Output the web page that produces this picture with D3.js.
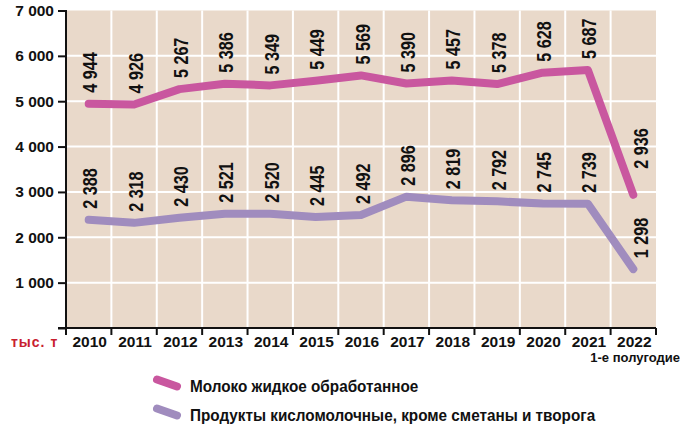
<!DOCTYPE html>
<html>
<head>
<meta charset="utf-8">
<script src="https://cdn.jsdelivr.net/npm/d3@7"></script>
<style>
  body { margin: 0; background: #fff; }
  svg text { font-family: "Liberation Sans", Arial, sans-serif; font-weight: bold; }
</style>
</head>
<body>
<div id="chart"></div>
<script>
"use strict";

var years = ["2010", "2011", "2012", "2013", "2014", "2015", "2016", "2017", "2018", "2019", "2020", "2021", "2022"];
var milk = [4944, 4926, 5267, 5386, 5349, 5449, 5569, 5390, 5457, 5378, 5628, 5687, 2936];
var sour = [2388, 2318, 2430, 2521, 2520, 2445, 2492, 2896, 2819, 2792, 2745, 2739, 1298];
var yTicks = [1000, 2000, 3000, 4000, 5000, 6000, 7000];
var seriesNames = ["Молоко жидкое обработанное", "Продукты кисломолочные, кроме сметаны и творога"];

var width = 680, height = 427;
var plotLeft = 66, plotRight = 656, plotTop = 10.5, plotBottom = 328;
var colors = ["#c9579f", "#a08cbe"];
var fmt = function(v) { return d3.format(",")(v).replace(",", " "); };

var svg = d3.select("#chart").append("svg")
  .attr("width", width)
  .attr("height", height);

var x = d3.scaleBand().domain(years).range([plotLeft, plotRight]);
var y = d3.scaleLinear().domain([0, 7000]).range([plotBottom, plotTop]);

// plot background
svg.append("rect")
  .attr("x", plotLeft).attr("y", plotTop)
  .attr("width", plotRight - plotLeft).attr("height", plotBottom - plotTop)
  .attr("fill", "#e9d9ca");

// grid
svg.append("g").selectAll("line")
  .data(yTicks.slice(0, -1))
  .enter().append("line")
  .attr("x1", plotLeft).attr("x2", plotRight)
  .attr("y1", function(d) { return y(d); })
  .attr("y2", function(d) { return y(d); })
  .attr("stroke", "#fff").attr("stroke-width", 2);

svg.append("g").selectAll("line")
  .data(years.slice(1))
  .enter().append("line")
  .attr("x1", function(d) { return x(d); })
  .attr("x2", function(d) { return x(d); })
  .attr("y1", plotTop).attr("y2", plotBottom)
  .attr("stroke", "#fff").attr("stroke-width", 2);

// y axis
var yAxis = d3.axisLeft(y)
  .tickValues([0].concat(yTicks))
  .tickSize(8)
  .tickPadding(4)
  .tickFormat(function(d) { return d === 0 ? "" : fmt(d); });

var gy = svg.append("g")
  .attr("transform", "translate(" + plotLeft + ",0)")
  .call(yAxis);
gy.select(".domain").remove();
gy.selectAll(".tick line").attr("stroke", "#111").attr("stroke-width", 2);
gy.selectAll("text").attr("font-size", 15.5).attr("fill", "#111")
  .style("font-family", "'Liberation Sans', Arial, sans-serif").style("font-weight", "bold");

svg.append("line")
  .attr("x1", plotLeft).attr("x2", plotLeft)
  .attr("y1", plotTop - 0.5).attr("y2", plotBottom + 7)
  .attr("stroke", "#111").attr("stroke-width", 2);

// x axis
svg.append("line")
  .attr("x1", plotLeft - 8).attr("x2", plotRight)
  .attr("y1", plotBottom).attr("y2", plotBottom)
  .attr("stroke", "#111").attr("stroke-width", 2);

svg.append("g").selectAll("line")
  .data(years.concat(["end"]))
  .enter().append("line")
  .attr("x1", function(d, i) { return plotLeft + i * x.bandwidth(); })
  .attr("x2", function(d, i) { return plotLeft + i * x.bandwidth(); })
  .attr("y1", plotBottom).attr("y2", plotBottom + 7)
  .attr("stroke", "#111").attr("stroke-width", 2);

svg.append("g").selectAll("text")
  .data(years)
  .enter().append("text")
  .attr("x", function(d) { return x(d) + x.bandwidth() / 2 + 1; })
  .attr("y", plotBottom + 18.5)
  .attr("text-anchor", "middle")
  .attr("font-size", 15.5)
  .attr("fill", "#111")
  .text(function(d) { return d; });

svg.append("text")
  .attr("x", 11).attr("y", plotBottom + 19)
  .attr("font-size", 14)
  .attr("letter-spacing", 1)
  .attr("fill", "#c8202f")
  .text("тыс. т");

svg.append("text")
  .attr("x", 680).attr("y", plotBottom + 34)
  .attr("text-anchor", "end")
  .attr("font-size", 13)
  .attr("fill", "#111")
  .text("1-е полугодие");

// lines
var line = d3.line()
  .x(function(d, i) { return x(years[i]) + x.bandwidth() / 2; })
  .y(function(d) { return y(d); });

[milk, sour].forEach(function(values, s) {
  svg.append("path")
    .datum(values)
    .attr("d", line)
    .attr("fill", "none")
    .attr("stroke", colors[s])
    .attr("stroke-width", 8)
    .attr("stroke-linecap", "round")
    .attr("stroke-linejoin", "round");
});

// value labels (condensed look via horizontal squeeze)
[milk, sour].forEach(function(values, s) {
  svg.append("g").selectAll("text")
    .data(values)
    .enter().append("text")
    .attr("transform", function(d, i) {
      var last = i === values.length - 1;
      var cx = x(years[i]) + x.bandwidth() / 2 + (last ? 8 : 1.5);
      var cy = y(d) - (last && s === 0 ? 26 : 11);
      return "translate(" + cx + "," + cy + ") rotate(-90) scale(0.83,1)";
    })
    .attr("dy", "0.36em")
    .attr("font-size", 19.5)
    .attr("fill", "#111")
    .text(function(d) { return fmt(d); });
});

// legend
var legend = svg.append("g");
seriesNames.forEach(function(name, i) {
  var ly = 383 + i * 29;
  legend.append("line")
    .attr("x1", 157).attr("y1", ly - 3.5)
    .attr("x2", 177).attr("y2", ly + 3.5)
    .attr("stroke", colors[i])
    .attr("stroke-width", 8)
    .attr("stroke-linecap", "round");
  legend.append("text")
    .attr("transform", "translate(190," + (ly + 8.5) + ") scale(0.9,1)")
    .attr("font-size", 17)
    .attr("fill", "#111")
    .text(name);
});
</script>
</body>
</html>
